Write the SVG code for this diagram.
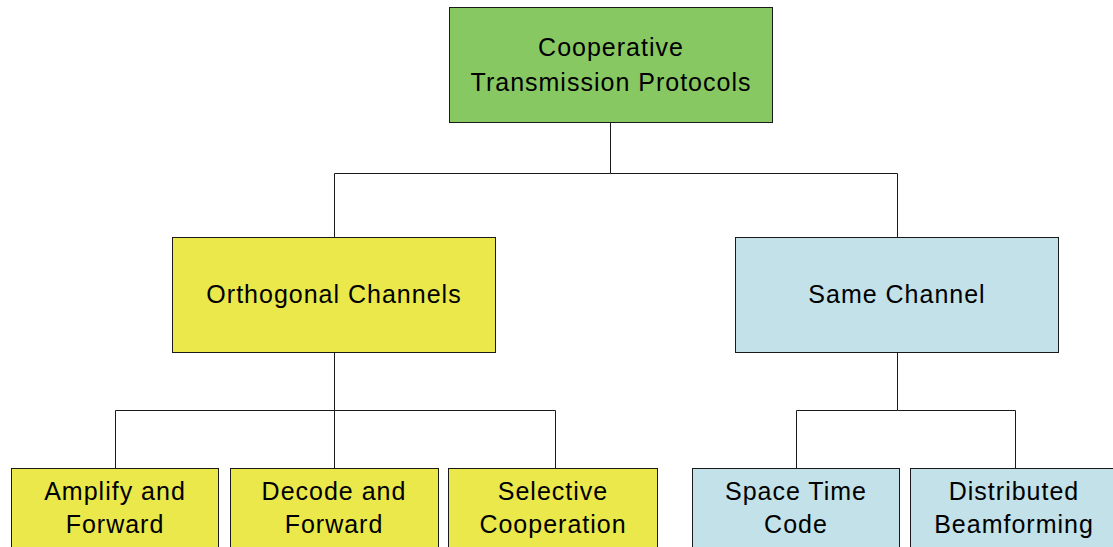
<svg xmlns="http://www.w3.org/2000/svg" width="1113" height="547" viewBox="0 0 1113 547">
  <style>
    .box { stroke: #1a1a1a; stroke-width: 1; }
    .green { fill: #88c862; }
    .yellow { fill: #eae84a; }
    .blue { fill: #c2e1e8; }
    .label { font-family: "Liberation Sans", Arial, sans-serif; font-size: 25px; letter-spacing: 1px; fill: #000; text-anchor: middle; }
    .wire { fill: none; stroke: #1a1a1a; stroke-width: 1; }
  </style>
  <rect width="1113" height="547" fill="#ffffff"/>

  <g id="connectors">
    <path class="wire" d="M610.5 122 V173.5 H334.5 V237 M610.5 173.5 H897.5 V237"/>
    <path class="wire" d="M334.5 352 V410.5 H115.5 V468 M334.5 410.5 V468 M334.5 410.5 H555.5 V468"/>
    <path class="wire" d="M897.5 352 V410.5 H796.5 V468 M897.5 410.5 H1015.5 V468"/>
  </g>

  <g id="root">
    <rect class="box green" x="449.5" y="7.5" width="323" height="115"/>
    <text class="label" x="611" y="56">Cooperative</text>
    <text class="label" x="611" y="91">Transmission Protocols</text>
  </g>

  <g id="orthogonal">
    <rect class="box yellow" x="172.5" y="237.5" width="323" height="115"/>
    <text class="label" x="334" y="303">Orthogonal Channels</text>
  </g>

  <g id="same">
    <rect class="box blue" x="735.5" y="237.5" width="323" height="115"/>
    <text class="label" x="897" y="303">Same Channel</text>
  </g>

  <g id="amplify">
    <rect class="box yellow" x="11.5" y="468.5" width="207" height="115"/>
    <text class="label" x="115" y="500">Amplify and</text>
    <text class="label" x="115" y="533">Forward</text>
  </g>

  <g id="decode">
    <rect class="box yellow" x="230.5" y="468.5" width="208" height="115"/>
    <text class="label" x="334" y="500">Decode and</text>
    <text class="label" x="334" y="533">Forward</text>
  </g>

  <g id="selective">
    <rect class="box yellow" x="448.5" y="468.5" width="209" height="115"/>
    <text class="label" x="553" y="500">Selective</text>
    <text class="label" x="553" y="533">Cooperation</text>
  </g>

  <g id="stc">
    <rect class="box blue" x="692.5" y="468.5" width="207" height="115"/>
    <text class="label" x="796" y="500">Space Time</text>
    <text class="label" x="796" y="533">Code</text>
  </g>

  <g id="beamforming">
    <rect class="box blue" x="910.5" y="468.5" width="208" height="115"/>
    <text class="label" x="1014" y="500">Distributed</text>
    <text class="label" x="1014" y="533">Beamforming</text>
  </g>
</svg>
